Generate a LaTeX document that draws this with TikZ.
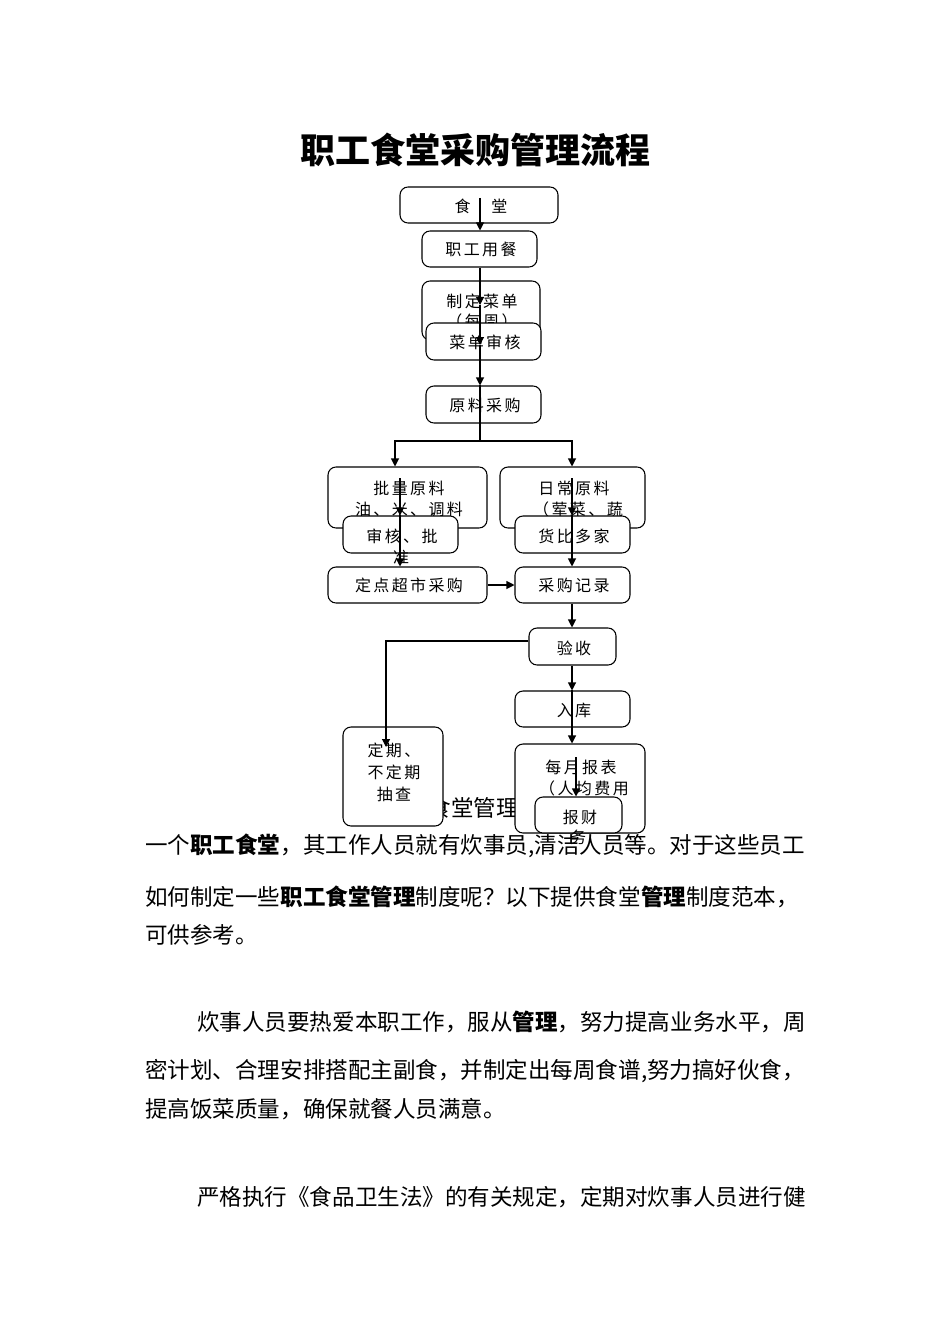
\documentclass[tikz,border=0pt]{standalone}
\usepackage{fontspec}
\setmainfont{Noto Sans CJK SC}
\newfontfamily\cjkbox[LetterSpace=15]{Noto Sans CJK SC}
\usetikzlibrary{arrows.meta}
\tikzset{
  box/.style={draw, line width=0.8pt, rounded corners=6pt, fill=white, inner sep=0pt},
  lbl/.style={inner sep=0pt, font=\cjkbox\fontsize{12}{14}\selectfont},
  para/.style={inner sep=0pt, anchor=west, font=\fontsize{16.9}{20}\selectfont},
  arr/.style={-{Triangle[length=6pt,width=6pt]}, line width=0.8pt},
  ln/.style={line width=0.8pt}
}
\begin{document}
\begin{tikzpicture}[x=0.75pt,y=-0.75pt]
\useasboundingbox (0,0) rectangle (950,1344);
% title
\node[inner sep=0pt, font=\bfseries\fontsize{26.25}{30}\selectfont] (title) at (475,150) {职工食堂采购管理流程};
% hidden heading fragment
\node[inner sep=0pt, anchor=east, font=\fontsize{16.9}{20}\selectfont] (frag) at (519,808) {食堂管理};
% paragraphs
\node[para] (p1) at (145,846) {一个\textbf{职工食堂}，其工作人员就有炊事员,清洁人员等。对于这些员工};
\node[para] (p2) at (145,897) {如何制定一些\textbf{职工食堂管理}制度呢？以下提供食堂\textbf{管理}制度范本，};
\node[para] (p3) at (145,935) {可供参考。};
\node[para] (p4) at (197,1022) {炊事人员要热爱本职工作，服从\textbf{管理}，努力提高业务水平，周};
\node[para] (p5) at (145,1071) {密计划、合理安排搭配主副食，并制定出每周食谱,努力搞好伙食，};
\node[para] (p6) at (145,1109) {提高饭菜质量，确保就餐人员满意。};
\node[para] (p7) at (197,1197) {严格执行《食品卫生法》的有关规定，定期对炊事人员进行健};
% boxes
\node[box, minimum width=158*0.75pt, minimum height=36*0.75pt] (b1) at (479,205) {};
\node[lbl] (t1) at (481,206) {食　堂};
\node[box, minimum width=115*0.75pt, minimum height=36*0.75pt] (b2) at (479.5,249) {};
\node[lbl] (t2) at (481,249) {职工用餐};
\node[box, minimum width=118*0.75pt, minimum height=59*0.75pt] (b3) at (481,310.5) {};
\node[lbl] (t3a) at (482,301) {制定菜单};
\node[lbl] (t3b) at (482,321) {（每周）};
\node[box, minimum width=115*0.75pt, minimum height=37*0.75pt] (b4) at (483.5,341.5) {};
\node[lbl] (t4) at (485,342) {菜单审核};
\node[box, minimum width=115*0.75pt, minimum height=37*0.75pt] (b5) at (483.5,404.5) {};
\node[lbl] (t5) at (485,405) {原料采购};
\node[box, minimum width=159*0.75pt, minimum height=61*0.75pt] (b6) at (407.5,497.5) {};
\node[lbl] (t6a) at (409,488) {批量原料};
\node[lbl] (t6b) at (409,509) {油、米、调料};
\node[box, minimum width=145*0.75pt, minimum height=61*0.75pt] (b7) at (572.5,497.5) {};
\node[lbl] (t7a) at (574,488) {日常原料};
\node[lbl] (t7b) at (578,509) {（荤菜、蔬};
\node[box, minimum width=115*0.75pt, minimum height=37*0.75pt] (b8) at (400.5,534.5) {};
\node[lbl] (t8a) at (402,536) {审核、批};
\node[lbl] (t8b) at (401,557) {准};
\node[box, minimum width=115*0.75pt, minimum height=37*0.75pt] (b9) at (572.5,534.5) {};
\node[lbl] (t9) at (574,536) {货比多家};
\node[box, minimum width=159*0.75pt, minimum height=36*0.75pt] (b10) at (407.5,585) {};
\node[lbl] (t10) at (409,585) {定点超市采购};
\node[box, minimum width=115*0.75pt, minimum height=36*0.75pt] (b11) at (572.5,585) {};
\node[lbl] (t11) at (574,585) {采购记录};
\node[box, minimum width=87*0.75pt, minimum height=37*0.75pt] (b12) at (572.5,646.5) {};
\node[lbl] (t12) at (574,648) {验收};
\node[box, minimum width=115*0.75pt, minimum height=36*0.75pt] (b13) at (572.5,709) {};
\node[lbl] (t13) at (574,710) {入库};
\node[box, minimum width=100*0.75pt, minimum height=99*0.75pt] (b14) at (393,776.5) {};
\node[lbl] (t14a) at (394,750) {定期、};
\node[lbl] (t14b) at (394,772) {不定期};
\node[lbl] (t14c) at (394,794) {抽查};
\node[box, minimum width=130*0.75pt, minimum height=89*0.75pt] (b15) at (580,788.5) {};
\node[lbl] (t15a) at (581,767) {每月报表};
\node[lbl] (t15b) at (584,788) {（人均费用};
\node[box, minimum width=87*0.75pt, minimum height=36*0.75pt] (b16) at (578.5,815) {};
\node[lbl] (t16a) at (580,817) {报财};
\node[lbl] (t16b) at (578,837) {务};
% connector points
\coordinate (s1) at (480,198);
\coordinate (m3) at (480,305);
\coordinate (s6) at (400,478);
\coordinate (s7) at (572,478);
\coordinate (j5) at (480,441);
\coordinate (jl) at (395,441);
\coordinate (jr) at (572,441);
\coordinate (k12) at (386,641);
\coordinate (e14) at (386,747);
\coordinate (s15) at (576,757);
% connectors
\draw[arr] (s1) -- (s1 |- b2.north);
\draw[arr] (b2.south -| m3) -- (m3);
\draw[arr] (m3) -- (m3 |- 0,345);
\draw[arr] (m3 |- 0,345) -- (m3 |- b5.north);
\draw[ln] (m3 |- b5.north) -- (j5);
\draw[arr] (j5) -- (jl) -- (jl |- b6.north);
\draw[arr] (j5) -- (jr) -- (jr |- b7.north);
\draw[arr] (s6) -- (s6 |- b8.north);
\draw[arr] (s6 |- b8.north) -- (s6 |- b10.north);
\draw[arr] (s7) -- (s7 |- b9.north);
\draw[arr] (s7 |- b9.north) -- (s7 |- b11.north);
\draw[arr] (b10.east) -- (b11.west);
\draw[arr] (s7 |- b11.south) -- (s7 |- b12.north);
\draw[arr] (b12.west |- k12) -- (k12) -- (e14);
\draw[arr] (s7 |- b12.south) -- (s7 |- b13.north);
\draw[arr] (s7 |- b13.north) -- (s7 |- b15.north);
\draw[arr] (s15) -- (s15 |- b16.north);
\end{tikzpicture}
\end{document}
